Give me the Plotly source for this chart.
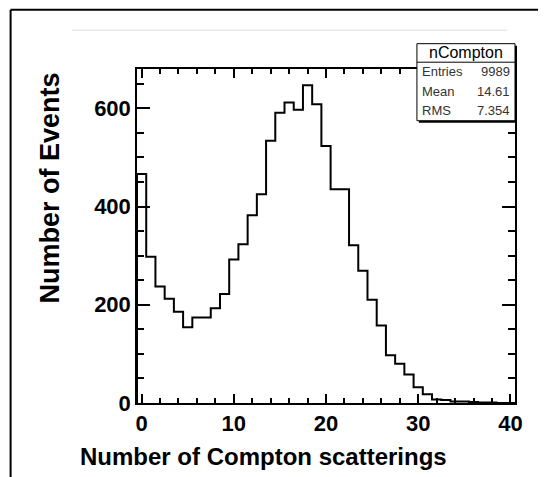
import plotly.graph_objects as go

# Histogram data: bin centres 0..40 (unit-width bins), counts
bin_centers = list(range(0, 41))
counts = [466, 298, 237, 212, 186, 154, 174, 174, 193, 222,
          292, 323, 382, 425, 534, 591, 612, 597, 647, 608,
          523, 435, 435, 321, 269, 210, 158, 97, 80, 58,
          32, 18, 7, 6, 3, 3, 2, 1, 1, 0, 0]
x_tick_vals = [0, 10, 20, 30, 40]
y_tick_vals = [0, 200, 400, 600]
stat_labels = ["Entries", "Mean", "RMS"]
stat_values = ["9989", "14.61", "7.354"]
hist_name = "nCompton"

# the page places the figure 8px from the top-left corner
OFF = 8
W, H = 546 - OFF, 477 - OFF
L, R, T, B = 137.3 - OFF, 515.0 - OFF, 69.3 - OFF, 403.0 - OFF

def px(x):
    return (x - OFF - L) / (R - L)

def py(y):
    return (B - (y - OFF)) / (B - T)

# step outline
xs = [c - 0.5 for c in bin_centers] + [bin_centers[-1] + 0.5]
ys = counts + [counts[-1]]
xs = [xs[0]] + xs
ys = [0] + ys

FONT = "Liberation Sans, Arial"

fig = go.Figure()
fig.add_trace(go.Scatter(x=xs, y=ys, mode="lines", line=dict(color="black", width=2, shape="hv"),
                         hoverinfo="skip", showlegend=False))

axis_common = dict(showgrid=False, zeroline=False, showline=True, linecolor="black", linewidth=1.5,
                   mirror="allticks", ticks="inside", tickwidth=1.5, tickcolor="black",
                   tickfont=dict(family=FONT, size=22, color="black", weight="bold"))

fig.update_xaxes(range=[-0.5, 40.5], tickvals=x_tick_vals, ticklen=9,
                 minor=dict(dtick=2, ticks="inside", ticklen=5, tickcolor="black", tickwidth=1.5),
                 **axis_common)
fig.update_yaxes(range=[0, 680], tickvals=y_tick_vals, ticklen=13,
                 minor=dict(dtick=50, ticks="inside", ticklen=7, tickcolor="black", tickwidth=1.5),
                 **axis_common)

shapes = []
# outer canvas frame (top and left)
shapes.append(dict(type="line", xref="paper", yref="paper", x0=px(11), x1=px(546), y0=py(10), y1=py(10),
                   line=dict(color="black", width=2)))
shapes.append(dict(type="line", xref="paper", yref="paper", x0=px(11), x1=px(11), y0=py(10), y1=py(477),
                   line=dict(color="black", width=2)))
# faint grey line
shapes.append(dict(type="line", xref="paper", yref="paper", x0=px(72), x1=px(507), y0=py(30.5), y1=py(30.5),
                   line=dict(color="#dcdcdc", width=1)))
# stat box shadow + box
shapes.append(dict(type="rect", xref="paper", yref="paper", x0=px(419), x1=px(517), y0=py(46), y1=py(123),
                   fillcolor="black", line=dict(width=0)))
shapes.append(dict(type="rect", xref="paper", yref="paper", x0=px(417), x1=px(515), y0=py(44), y1=py(121),
                   fillcolor="white", line=dict(color="black", width=1)))
shapes.append(dict(type="line", xref="paper", yref="paper", x0=px(417), x1=px(515), y0=py(62.5), y1=py(62.5),
                   line=dict(color="black", width=1)))

annotations = []
annotations.append(dict(text=hist_name, xref="paper", yref="paper", x=px(466), y=py(53), showarrow=False,
                        xanchor="center", yanchor="middle",
                        font=dict(family=FONT, size=16, color="black")))
row_y = [72, 91.5, 111]
for lab, val, yy in zip(stat_labels, stat_values, row_y):
    annotations.append(dict(text=lab, xref="paper", yref="paper", x=px(420), y=py(yy), showarrow=False,
                            xanchor="left", yanchor="middle",
                            font=dict(family=FONT, size=13, color="#333333")))
    annotations.append(dict(text=val, xref="paper", yref="paper", x=px(512), y=py(yy), showarrow=False,
                            xanchor="right", yanchor="middle",
                            font=dict(family=FONT, size=13, color="#333333")))
# axis titles
annotations.append(dict(text="Number of Compton scatterings", xref="paper", yref="paper", x=px(264), y=py(456),
                        showarrow=False, xanchor="center", yanchor="middle",
                        font=dict(family=FONT, size=24, color="black", weight="bold")))
annotations.append(dict(text="Number of Events", xref="paper", yref="paper", x=px(50), y=py(188),
                        showarrow=False, xanchor="center", yanchor="middle", textangle=-90,
                        font=dict(family=FONT, size=27, color="black", weight="bold")))

fig.update_layout(width=W, height=H, margin=dict(l=L, r=W - R, t=T, b=H - B, pad=0),
                  plot_bgcolor="white", paper_bgcolor="white",
                  shapes=shapes, annotations=annotations)

fig.write_html("out.html")
